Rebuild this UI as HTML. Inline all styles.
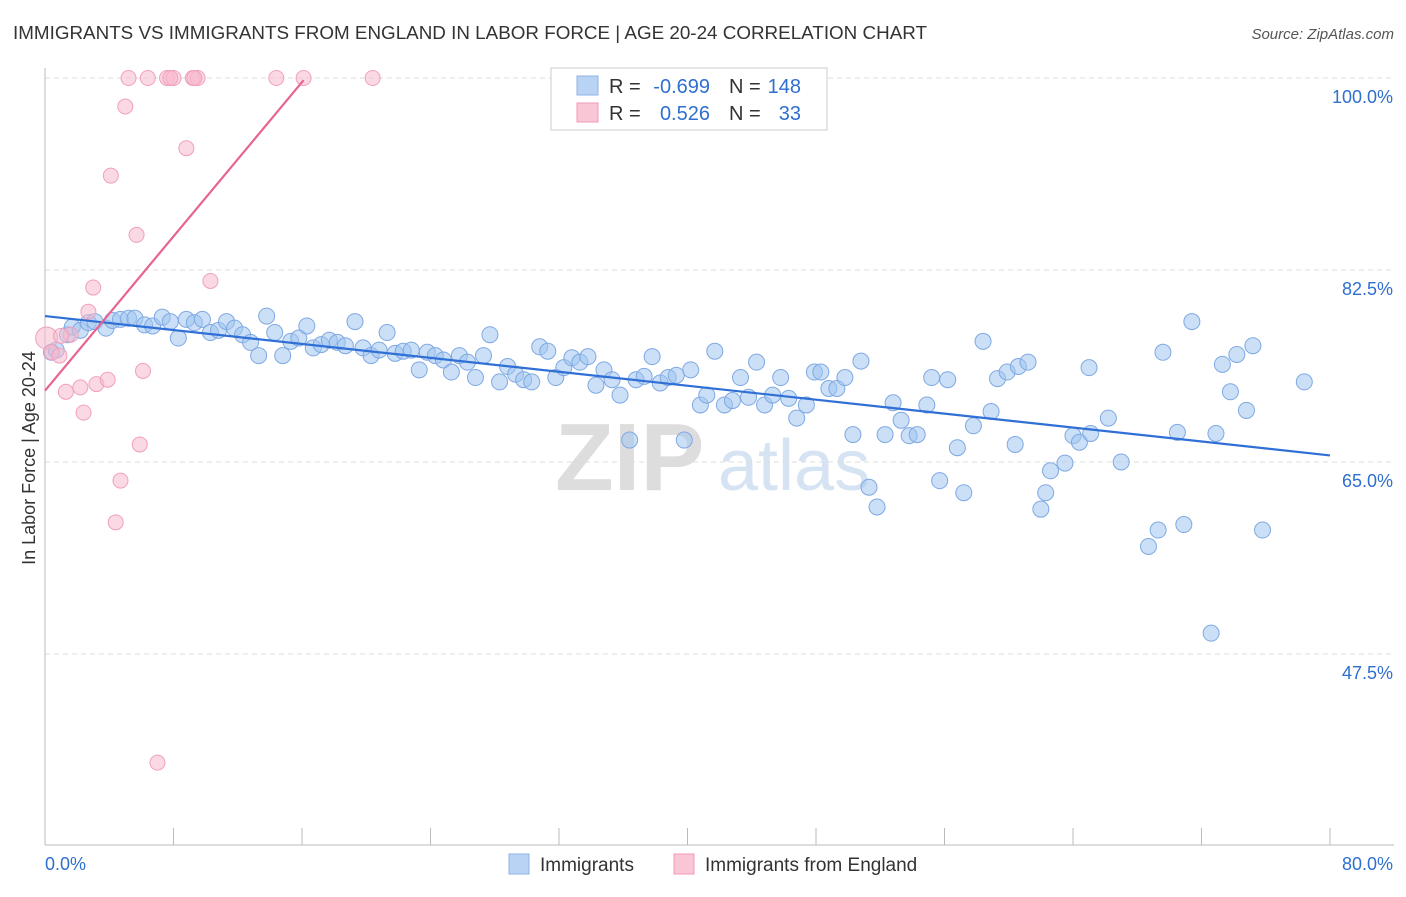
<!DOCTYPE html>
<html><head><meta charset="utf-8"><style>
body{margin:0;background:#fff;font-family:"Liberation Sans",sans-serif}
svg text{font-family:"Liberation Sans",sans-serif}
</style></head><body>
<svg id="c" width="1406" height="892">
<text x="13" y="39" font-size="18" fill="#333" textLength="914" lengthAdjust="spacingAndGlyphs">IMMIGRANTS VS IMMIGRANTS FROM ENGLAND IN LABOR FORCE | AGE 20-24 CORRELATION CHART</text>
<text x="1394" y="39" font-size="15" fill="#555" font-style="italic" text-anchor="end">Source: ZipAtlas.com</text>
<text x="35" y="458" font-size="18" fill="#333" transform="rotate(-90 35 458)" text-anchor="middle">In Labor Force | Age 20-24</text>
<text x="555" y="490" font-size="96" fill="#ddd" font-family="Liberation Serif" font-weight="bold">ZIP</text>
<text x="718" y="490" font-size="72" fill="#d6e3f3">atlas</text>
<g id="grid"></g><g id="pts"></g><g id="lines"></g>
<g>
<rect x="551" y="68" width="276" height="62" fill="#fff" stroke="#ccc"/>
<rect x="577" y="76" width="21" height="19" fill="#b9d3f5" stroke="#8fb3e6"/>
<rect x="577" y="103" width="21" height="19" fill="#f9c6d5" stroke="#f09ab4"/>
<text x="609" y="93" font-size="20" fill="#333">R =</text>
<text x="710" y="93" font-size="20" fill="#2f6fcf" text-anchor="end">-0.699</text>
<text x="729" y="93" font-size="20" fill="#333">N =</text>
<text x="801" y="93" font-size="20" fill="#2f6fcf" text-anchor="end">148</text>
<text x="609" y="120" font-size="20" fill="#333">R =</text>
<text x="710" y="120" font-size="20" fill="#2f6fcf" text-anchor="end">0.526</text>
<text x="729" y="120" font-size="20" fill="#333">N =</text>
<text x="801" y="120" font-size="20" fill="#2f6fcf" text-anchor="end">33</text>
</g>
<g>
<rect x="509" y="854" width="20" height="20" fill="#b9d3f5" stroke="#8fb3e6"/>
<text x="540" y="871" font-size="19" fill="#333">Immigrants</text>
<rect x="674" y="854" width="20" height="20" fill="#f9c6d5" stroke="#f09ab4"/>
<text x="705" y="871" font-size="19" fill="#333">Immigrants from England</text>
</g>
<text x="45" y="870" font-size="18" fill="#2f6fcf">0.0%</text>
<text x="1393" y="870" font-size="18" fill="#2f6fcf" text-anchor="end">80.0%</text>
</svg>
<script>
const yTicks=[100,82.5,65,47.5];
const yTickLabels=["100.0%","82.5%","65.0%","47.5%"];
const xTicks=[0,8,16,24,32,40,48,56,64,72,80];
const blueX=[0.4,0.7,1.4,1.7,2.2,2.7,3.1,3.8,4.2,4.7,5.2,5.6,6.2,6.7,7.3,7.8,8.3,8.8,9.3,9.8,10.3,10.8,11.3,11.8,12.3,12.8,13.3,13.8,14.3,14.8,15.3,15.8,16.3,16.7,17.2,17.7,18.2,18.7,19.3,19.8,20.3,20.8,21.3,21.8,22.3,22.8,23.3,23.8,24.3,24.8,25.3,25.8,26.3,26.8,27.7,27.3,28.3,28.8,29.3,29.8,30.3,30.8,31.3,31.8,32.3,32.8,33.3,33.8,34.3,34.8,35.3,35.8,36.4,36.8,37.3,37.8,38.3,38.8,39.3,39.8,40.2,40.8,41.2,41.7,42.3,42.8,43.3,43.8,44.3,44.8,45.3,45.8,46.3,46.8,47.4,47.9,48.3,48.8,49.3,49.8,50.3,50.8,51.3,51.8,52.3,52.8,53.3,53.8,54.3,54.9,55.2,55.7,56.2,56.8,57.2,57.8,58.4,58.9,59.3,59.9,60.4,60.6,61.2,62.0,62.3,62.6,63.5,64.0,64.4,65.1,65.0,66.2,67.0,68.7,69.3,69.6,70.5,70.9,71.4,72.9,73.3,73.8,74.2,74.8,75.2,75.8,72.6,78.4];
const blueY=[75.0,75.2,76.6,77.3,77.0,77.7,77.8,77.2,77.9,78.0,78.1,78.1,77.5,77.4,78.2,77.8,76.3,78.0,77.7,78.0,76.8,77.0,77.8,77.2,76.6,75.9,74.7,78.3,76.8,74.7,76.0,76.3,77.4,75.4,75.7,76.1,75.9,75.6,77.8,75.4,74.7,75.2,76.8,74.9,75.1,75.2,73.4,75.0,74.7,74.3,73.2,74.7,74.1,72.7,76.6,74.7,72.3,73.7,73.0,72.5,72.3,75.5,75.1,72.7,73.6,74.5,74.1,74.6,72.0,73.4,72.5,71.1,67.0,72.5,72.8,74.6,72.2,72.7,72.9,67.0,73.4,70.2,71.1,75.1,70.2,70.6,72.7,70.9,74.1,70.2,71.1,72.7,70.8,69.0,70.2,73.2,73.2,71.7,71.7,72.7,67.5,74.2,62.7,60.9,67.5,70.4,68.8,67.4,67.5,70.2,72.7,63.3,72.5,66.3,62.2,68.3,76.0,69.6,72.6,73.2,66.6,73.7,74.1,60.7,62.2,64.2,64.9,67.4,66.8,67.6,73.6,69.0,65.0,57.3,58.8,75.0,67.7,59.3,77.8,67.6,73.9,71.4,74.8,69.7,75.6,58.8,49.4,72.3];
const pinkX=[0.1,0.4,0.9,1.3,1.6,2.2,2.4,2.7,3.0,3.2,3.9,4.1,4.4,4.7,5.0,5.2,5.7,5.9,6.1,6.4,7.0,7.6,8.0,8.8,9.2,9.5,10.3,14.4,16.1,20.4,9.3,7.8,1.0];
const pinkY=[76.3,75.0,74.7,71.4,76.6,71.8,69.5,78.7,80.9,72.1,72.5,91.1,59.5,63.3,97.4,100,85.7,66.6,73.3,100,37.6,100,100,93.6,100,100,81.5,100,100,100,100,100,76.5];
const blueTrend=[0,78.3,80,65.6];
const pinkTrend=[0,71.5,16.1,99.8];
const X=v=>45+v/80*1285, Y=v=>78+(100-v)/17.5*192;
const NS="http://www.w3.org/2000/svg";
function mk(t,a,p){const e=document.createElementNS(NS,t);for(const k in a)e.setAttribute(k,a[k]);p.appendChild(e);return e;}
const g=document.getElementById('grid');
yTicks.forEach((v,i)=>{
 const l=mk('line',{x1:45,x2:1394,y1:Y(v),y2:Y(v),stroke:'#ddd','stroke-dasharray':'5,4'},g);
 
 
 const t=mk('text',{x:1393,y:Y(v)+25,'font-size':18,fill:'#2f6fcf','text-anchor':'end'},g);t.textContent=yTickLabels[i];
 
 
});
const ax=mk('line',{x1:45,x2:1394,y1:845,y2:845,stroke:'#bbb'},g);


const ay=mk('line',{x1:45,x2:45,y1:68,y2:845,stroke:'#bbb'},g);


xTicks.forEach(v=>{const t=mk('line',{x1:X(v),x2:X(v),y1:828,y2:845,stroke:'#bbb'},g);
 
 });
const p=document.getElementById('pts');
blueX.forEach((v,i)=>{const c=mk('circle',{cx:X(v),cy:Y(blueY[i]),r:8,fill:'rgba(160,196,240,0.55)',stroke:'#7fa9e3','stroke-width':1},p);
 
 });
pinkX.forEach((v,i)=>{const c=mk('circle',{cx:X(v),cy:Y(pinkY[i]),r:i==0?11:7.5,fill:'rgba(248,186,206,0.55)',stroke:'#f0a0ba','stroke-width':1},p);
 
 });
const L=document.getElementById('lines');
const bl=mk('line',{x1:X(blueTrend[0]),y1:Y(blueTrend[1]),x2:X(blueTrend[2]),y2:Y(blueTrend[3]),stroke:'#2f6fd6','stroke-width':2.2},L);


const pl=mk('line',{x1:X(pinkTrend[0]),y1:Y(pinkTrend[1]),x2:X(pinkTrend[2]),y2:Y(pinkTrend[3]),stroke:'#e8638f','stroke-width':2.2},L);


</script>
</body></html>
